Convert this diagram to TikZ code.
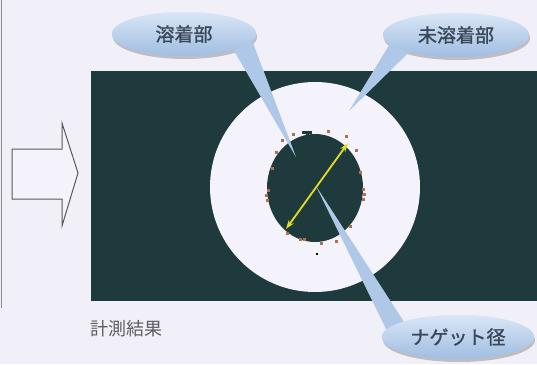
\documentclass[tikz,border=0pt]{standalone}
\usepackage{fontspec}
\newfontfamily\jp{Noto Sans CJK JP}
\newfontfamily\jpb[FakeBold=1.3]{Noto Sans CJK JP}
\usetikzlibrary{shapes.geometric,shadows,arrows.meta}
\definecolor{bg}{HTML}{F1EFF7}
\definecolor{dark}{HTML}{1E3A3C}
\definecolor{ring}{HTML}{F4F2FA}
\definecolor{speck}{HTML}{B0704C}
\definecolor{gold}{HTML}{E4DE1E}
\definecolor{balloonT}{HTML}{D9E6F6}
\definecolor{balloonB}{HTML}{A0BDE1}
\definecolor{ptr}{HTML}{AFC8E8}
\definecolor{ink}{HTML}{3A4758}
\definecolor{capc}{HTML}{5C5C62}
\begin{document}
\begin{tikzpicture}[x=1pt,y=-1pt,
  balloon/.style={ellipse, inner sep=0pt, top color=balloonT, bottom color=balloonB, draw=none,
    font=\jpb\fontsize{19}{20}\selectfont, text=ink},
  bshadow/.style={drop shadow={shadow xshift=1pt, shadow yshift=-3pt, opacity=.3, fill=black!70}},
  pointer/.style={fill=ptr},
  speckle/.style={fill=speck, minimum size=3pt, inner sep=0pt},
  blockarrow/.style={draw=black!65, line width=1pt, fill=ring, line join=miter},
  diam/.style={draw=gold, line width=1.8pt, {Stealth[length=9pt,width=6pt]}-{Stealth[length=9pt,width=6pt]}}
]
\useasboundingbox (0,0) rectangle (537,364);
\fill[bg] (0,0) rectangle (537,364);
\draw[black!45, line width=0.8pt] (1,0) -- (1,308);

% block arrow
\draw[blockarrow] (12,149) -- (62,149) -- (62,123) -- (78,173) -- (62,226) -- (62,199) -- (12,199) -- cycle;

% measurement image
\fill[dark] (91,71) rectangle (537,301);
\fill[ring] (315,187) circle[radius=105];
\fill[dark] (315,188) ellipse[x radius=48, y radius=54];

% speckles around nugget
\foreach \p in {(267,200),(268,190),(266,195),(363,199),(363,189),(364,194),(356,150),(276,152),(287,233),(300,239),(304,239),(321,243),(336,241),(328,131),(346,136),(272,168),(360,172),(282,140),(350,226),(293,134)}
  \node[speckle] at \p {};
\fill[dark] (302,131) rectangle (312,134);
\fill[dark] (306,131) rectangle (309,138);
\fill[black] (316,253) rectangle (318,255);

% nugget diameter
\coordinate (d1) at (286,229);
\coordinate (d2) at (348,143);
\draw[diam] (d1) -- (d2);

% callouts
\coordinate (t1) at (296,157);
\coordinate (t2) at (349,111);
\coordinate (t3) at (316,186);
\node[balloon, bshadow, minimum width=144pt, minimum height=44pt] (c1) at (184,34) {溶着部};
\node[balloon, bshadow, minimum width=146pt, minimum height=44pt] (c2) at (456,35) {未溶着部};
\node[balloon, bshadow, minimum width=152pt, minimum height=44pt] (c3) at (458,337) {ナゲット径};
\fill[pointer] (c1.-18) -- (t1) -- (c1.-6) -- cycle;
\fill[pointer] (c2.-172) -- (t2) -- (c2.-160) -- cycle;
\fill[pointer] (c3.164) -- (t3) -- (c3.174) -- cycle;
\node[balloon, minimum width=144pt, minimum height=44pt] at (c1) {溶着部};
\node[balloon, minimum width=146pt, minimum height=44pt] at (c2) {未溶着部};
\node[balloon, minimum width=152pt, minimum height=44pt] at (c3) {ナゲット径};

% caption
\node[font=\jp\fontsize{18}{20}\selectfont, text=capc, anchor=west, inner sep=0pt] (cap) at (90,329) {計測結果};
\end{tikzpicture}
\end{document}
